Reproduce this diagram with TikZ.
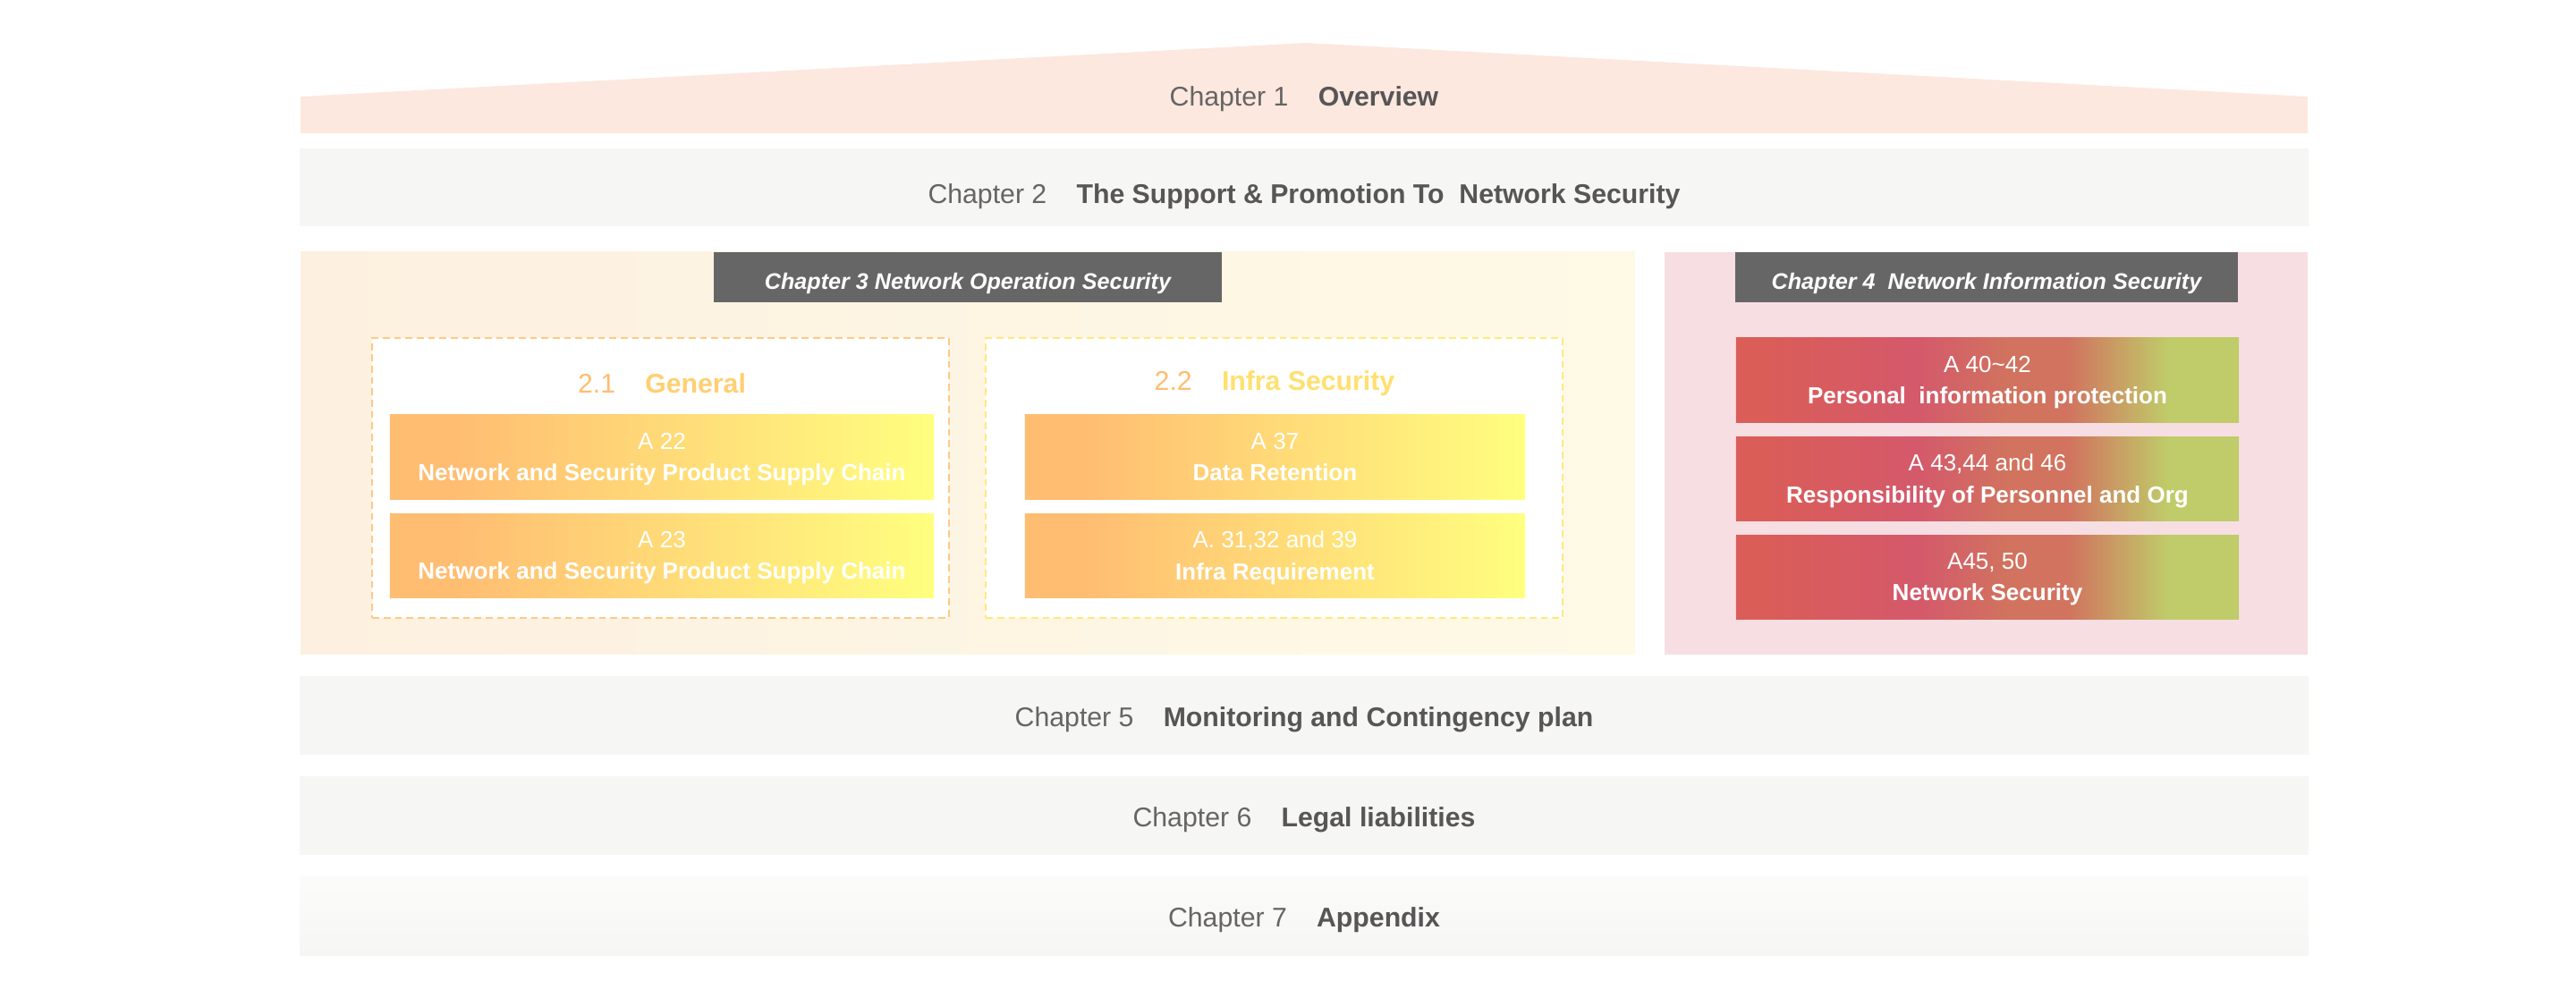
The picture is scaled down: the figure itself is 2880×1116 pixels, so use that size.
\documentclass[tikz,border=0pt]{standalone}
\usepackage{fontspec}
\setmainfont{Liberation Sans}
\usetikzlibrary{positioning}

\definecolor{chgray}{HTML}{F6F6F4}
\definecolor{chpeach}{HTML}{FCE8DF}
\definecolor{txtgray}{HTML}{666464}
\definecolor{boldgray}{HTML}{575555}
\definecolor{titlegray}{HTML}{666666}
\definecolor{opleft}{HTML}{FDF0E0}
\definecolor{opright}{HTML}{FEFAE6}
\definecolor{infobg}{HTML}{F7DEE2}
\definecolor{artor}{HTML}{FFBD72}
\definecolor{artyl}{HTML}{FFFF7F}
\definecolor{artrd}{HTML}{DB5D57}
\definecolor{artpk}{HTML}{D4596B}
\definecolor{artsa}{HTML}{D1735F}
\definecolor{artgr}{HTML}{BFCC69}
\definecolor{dashor}{HTML}{FFC984}
\definecolor{dashyl}{HTML}{FFE97C}
\definecolor{heador}{HTML}{FFBD70}
\definecolor{headgd}{HTML}{FFCF72}
\definecolor{headyl}{HTML}{FFE070}

\pgfdeclarehorizontalshading{orangeyellow}{100bp}{color(0bp)=(artor); color(31bp)=(artor); color(75bp)=(artyl); color(100bp)=(artyl)}
\pgfdeclarehorizontalshading{redgreen}{100bp}{color(0bp)=(artrd); color(27bp)=(artrd); color(43bp)=(artpk); color(52bp)=(artsa); color(58bp)=(artsa); color(68bp)=(artgr); color(100bp)=(artgr)}

\tikzstyle{chap} = [rectangle, minimum width=22.44cm, minimum height=0.87cm, inner sep=0pt, fill=chgray, text=txtgray, font=\fontsize{8.6pt}{10pt}\selectfont, text height=0.75em, text depth=0.05em]
\tikzstyle{title} = [rectangle, minimum height=0.56cm, inner sep=0pt, fill=titlegray, text=white, font=\fontsize{7.15pt}{9pt}\selectfont\bfseries\itshape, text height=1.0em, text depth=0.21em]
\tikzstyle{part} = [rectangle, minimum width=6.44cm, minimum height=3.13cm, inner sep=0pt, fill=white, dash pattern=on 2.2pt off 1.4pt, line width=0.6pt]
\tikzstyle{head} = [font=\fontsize{8.6pt}{10pt}\selectfont]
\tikzstyle{art} = [rectangle, minimum height=0.94cm, inner sep=0pt, text=white, align=center, font=\fontsize{7.4pt}{10pt}\selectfont, text depth=-0.6pt]

\begin{document}
\begin{tikzpicture}[x=0.01cm, y=-0.01cm, node distance=1.1cm]
  \useasboundingbox (0,0) rectangle (2880,1116);

  % roof
  \fill[chpeach] (336,149) -- (336,108) -- (1460,48) -- (2580,108) -- (2580,149) -- cycle;
  \node (ch1) [chap, fill=none, minimum height=0pt] at (1458,106)
    {Chapter 1\hspace{1.1em}\textcolor{boldgray}{\textbf{Overview}}};

  \node (ch2) [chap, text height=1.05em] at (1458,209.5)
    {Chapter 2\hspace{1.1em}\textcolor{boldgray}{\textbf{The Support \& Promotion To\ \ Network Security}}};

  % chapter 3 and 4 blocks
  \shade[left color=opleft, right color=opright] (336,282) rectangle (1828,732);
  \fill[infobg] (1861,282) rectangle (2580,732);

  \node (op)   [title, minimum width=5.68cm] at (1082,310) {Chapter 3 Network Operation Security};
  \node (info) [title, minimum width=5.62cm] at (2221,310) {Chapter 4\ \ Network Information Security};

  \node (general) [part, draw=dashor] at (738.5,534.5) {};
  \node (infra)   [part, draw=dashyl] at (1424.5,534.5) {};

  \node (gentxt)   [head] at (740,429)
    {\textcolor{heador}{2.1}\hspace{1.1em}\textcolor{headgd}{\textbf{General}}};
  \node (infratxt) [head] at (1425,429)
    {\textcolor{heador}{2.2}\hspace{1.1em}\textcolor{headyl}{\textbf{Infra Security}}};

  \node (a22) [art, shading=orangeyellow, minimum width=6.08cm] at (740,511)
    {A 22\\\textbf{Network and Security Product Supply Chain}};
  \node (a23) [art, shading=orangeyellow, minimum width=6.08cm, below of=a22]
    {A 23\\\textbf{Network and Security Product Supply Chain}};
  \node (a37) [art, shading=orangeyellow, minimum width=5.59cm] at (1425.5,511)
    {A 37\\\textbf{Data Retention}};
  \node (a31) [art, shading=orangeyellow, minimum width=5.59cm, below of=a37]
    {A. 31,32 and 39\\\textbf{Infra Requirement}};

  \node (a40) [art, shading=redgreen, minimum width=5.62cm] at (2222,425)
    {A 40\textasciitilde 42\\\textbf{Personal\ \ information protection}};
  \node (a43) [art, shading=redgreen, minimum width=5.62cm, below of=a40]
    {A 43,44 and 46\\\textbf{Responsibility of Personnel and Org}};
  \node (a45) [art, shading=redgreen, minimum width=5.62cm, below of=a43]
    {A45, 50\\\textbf{Network Security}};

  % lower chapters
  \node (ch5) [chap, minimum height=0.88cm] at (1458,800)
    {Chapter 5\hspace{1.1em}\textcolor{boldgray}{\textbf{Monitoring and Contingency plan}}};
  \node (ch6) [chap, minimum height=0.88cm, node distance=1.12cm, below of=ch5]
    {Chapter 6\hspace{1.1em}\textcolor{boldgray}{\textbf{Legal liabilities}}};
  \node (ch7) [chap, minimum height=0.88cm, node distance=1.12cm, below of=ch6, fill=none, top color=white!60!chgray, bottom color=chgray]
    {Chapter 7\hspace{1.1em}\textcolor{boldgray}{\textbf{Appendix}}};
\end{tikzpicture}
\end{document}
